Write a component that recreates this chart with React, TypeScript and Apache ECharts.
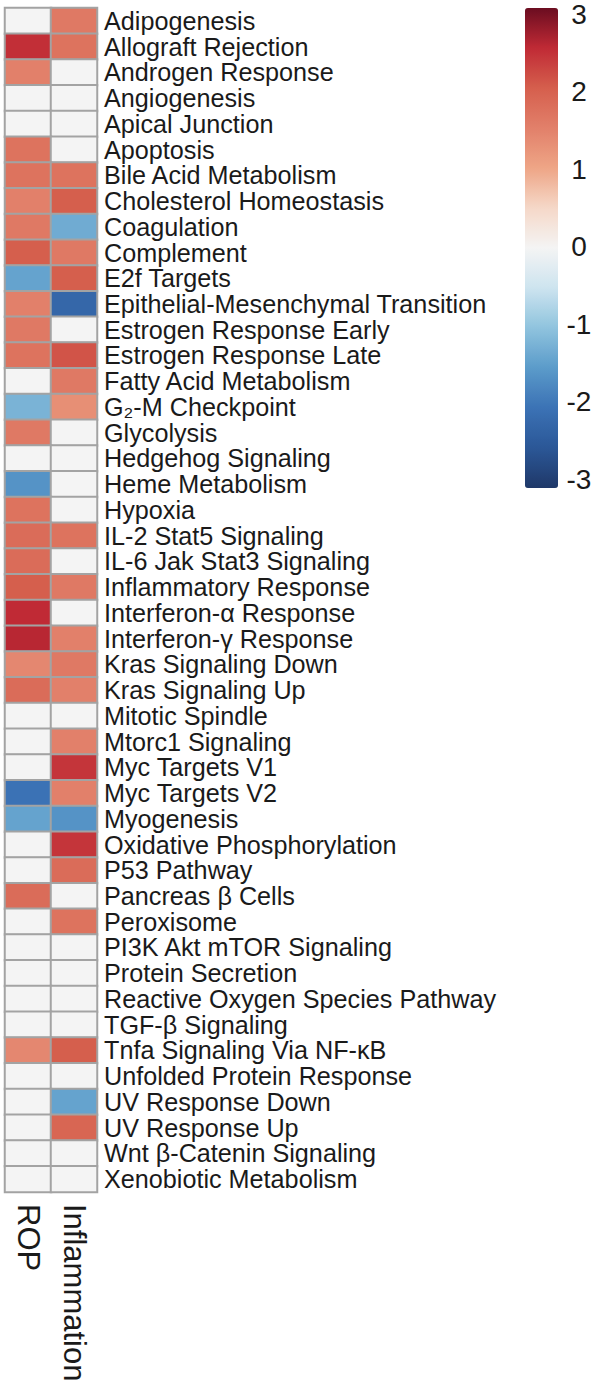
import React, { useEffect, useRef } from "react";
import * as echarts from "echarts";

const columns = ["ROP", "Inflammation"];
const pathways = [
  "Adipogenesis", "Allograft Rejection", "Androgen Response", "Angiogenesis", "Apical Junction",
  "Apoptosis", "Bile Acid Metabolism", "Cholesterol Homeostasis", "Coagulation", "Complement",
  "E2f Targets", "Epithelial-Mesenchymal Transition", "Estrogen Response Early", "Estrogen Response Late",
  "Fatty Acid Metabolism", "G₂-M Checkpoint", "Glycolysis", "Hedgehog Signaling", "Heme Metabolism",
  "Hypoxia", "IL-2 Stat5 Signaling", "IL-6 Jak Stat3 Signaling", "Inflammatory Response",
  "Interferon-α Response", "Interferon-γ Response", "Kras Signaling Down", "Kras Signaling Up",
  "Mitotic Spindle", "Mtorc1 Signaling", "Myc Targets V1", "Myc Targets V2", "Myogenesis",
  "Oxidative Phosphorylation", "P53 Pathway", "Pancreas β Cells", "Peroxisome",
  "PI3K Akt mTOR Signaling", "Protein Secretion", "Reactive Oxygen Species Pathway", "TGF-β Signaling",
  "Tnfa Signaling Via NF-κB", "Unfolded Protein Response", "UV Response Down", "UV Response Up",
  "Wnt β-Catenin Signaling", "Xenobiotic Metabolism",
];
const ropValues = [
  0, 2.45, 1.5, 0, 0, 1.7, 1.7, 1.5, 1.6, 2.0,
  -1.4, 1.5, 1.6, 1.7, 0, -1.2, 1.6, 0, -1.6, 1.7,
  1.8, 1.8, 2.0, 2.5, 2.55, 1.4, 1.8, 0, 0, 0,
  -2.0, -1.4, 0, 0, 1.8, 0, 0, 0, 0, 0,
  1.4, 0, 0, 0, 0, 0,
];
const inflammationValues = [
  1.6, 1.7, 0, 0, 0, 0, 1.7, 2.0, -1.3, 1.6,
  2.0, -2.2, 0, 2.1, 1.6, 1.3, 0, 0, 0, 0,
  1.7, 0, 1.6, 0, 1.5, 1.6, 1.5, 0, 1.5, 2.4,
  1.5, -1.6, 2.4, 1.8, 0, 1.7, 0, 0, 0, 0,
  2.0, 0, -1.4, 1.9, 0, 0,
];
const scaleTicks = [-3, 3];
const paletteColors = [
  "#1f3868", "#2b5797", "#3b72b5", "#5b9bca", "#8fc3de", "#cde4ef", "#f4f4f4",
  "#f5d8c8", "#eea586", "#e2806a", "#d55f4d", "#c02a35", "#6b0d20",
];

export default function App() {
  const ref = useRef<HTMLDivElement>(null);
  useEffect(() => {
    if (!ref.current) return;
    const chart = echarts.init(ref.current, null, { renderer: "svg" });
    const data: number[][] = [];
    pathways.forEach((_, i) => {
      data.push([0, i, ropValues[i]]);
      data.push([1, i, inflammationValues[i]]);
    });
    const font = "'Liberation Sans', Arial, Helvetica, sans-serif";
    chart.setOption({
      animation: false,
      backgroundColor: "#ffffff",
      grid: [
        { left: 5, top: 8, width: 92, height: 1184 },
        { left: 525, top: 11, width: 33, height: 468 },
      ],
      xAxis: [
        {
          gridIndex: 0,
          type: "category",
          data: columns,
          position: "bottom",
          axisLine: { show: false },
          axisTick: { show: false },
          splitLine: { show: false },
          axisLabel: {
            rotate: -90,
            interval: 0,
            fontSize: 31,
            fontFamily: font,
            color: "#1a1a1a",
            margin: 12,
          },
        },
        { gridIndex: 1, type: "value", show: false, min: 0, max: 1 },
      ],
      yAxis: [
        {
          gridIndex: 0,
          type: "category",
          data: pathways,
          inverse: true,
          position: "right",
          axisLine: { show: false },
          axisTick: { show: false },
          splitLine: { show: false },
          axisLabel: {
            interval: 0,
            fontSize: 25.2,
            fontFamily: font,
            color: "#1a1a1a",
            margin: 7,
            align: "left",
          },
        },
        {
          gridIndex: 1,
          type: "value",
          min: scaleTicks[0],
          max: scaleTicks[1],
          interval: 1,
          position: "right",
          axisLine: { show: false },
          axisTick: { show: false },
          splitLine: { show: false },
          axisLabel: {
            fontSize: 28,
            fontFamily: font,
            color: "#1a1a1a",
            margin: 21,
            align: "center",
          },
        },
      ],
      visualMap: {
        type: "continuous",
        seriesIndex: 0,
        min: scaleTicks[0],
        max: scaleTicks[1],
        calculable: false,
        orient: "vertical",
        left: 510,
        top: -7,
        itemWidth: 33,
        itemHeight: 480,
        inRange: { color: paletteColors },
        text: null,
        hoverLink: false,
      },
      series: [
        {
          type: "heatmap",
          xAxisIndex: 0,
          yAxisIndex: 0,
          data,
          itemStyle: { borderColor: "#a3a3a3", borderWidth: 2 },
          emphasis: { disabled: true },
        },
        {
          type: "scatter",
          xAxisIndex: 1,
          yAxisIndex: 1,
          data: [],
        },
      ],
    });
    return () => chart.dispose();
  }, []);
  return (
    <div
      ref={ref}
      style={{ position: "absolute", left: 0, top: 0, width: 606, height: 1387 }}
    />
  );
}
